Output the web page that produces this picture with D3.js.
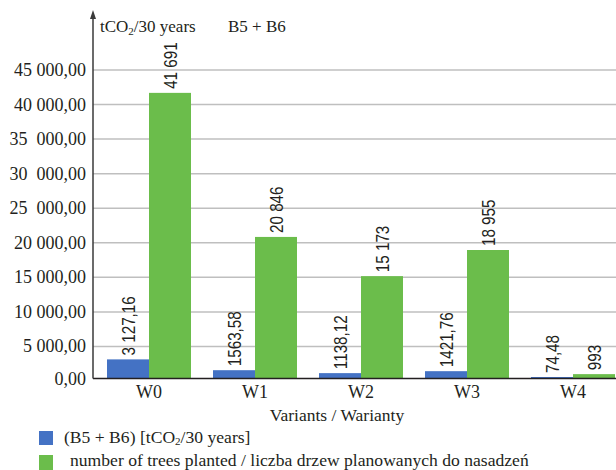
<!DOCTYPE html>
<html>
<head>
<meta charset="utf-8">
<script src="https://cdn.jsdelivr.net/npm/d3@7"></script>
<style>
  body { margin: 0; background: #fff; }
  svg { display: block; }
  text { white-space: pre; fill: #231f20; }
  .serif { font-family: "Liberation Serif", "Tinos", "Times New Roman", "DejaVu Serif", serif; }
  .sans { font-family: "Liberation Sans", Arimo, Arial, sans-serif; }
</style>
</head>
<body>
<svg width="616" height="470"></svg>
<script>
  const variants = ["W0", "W1", "W2", "W3", "W4"];
  const co2Values = [3127.16, 1563.58, 1138.12, 1421.76, 74.48];
  const treeValues = [41691, 20846, 15173, 18955, 993];
  const co2Labels = ["3 127,16", "1563,58", "1138,12", "1421,76", "74,48"];
  const treeLabels = ["41 691", "20 846", "15 173", "18 955", "993"];
  const tickValues = [0, 5000, 10000, 15000, 20000, 25000, 30000, 35000, 40000, 45000];
  const tickLabels = ["0,00", "5 000,00", "10 000,00", "15 000,00", "20 000,00",
                      "25  000,00", "30  000,00", "35  000,00", "40 000,00", "45 000,00"];

  const blue = "#4472c4";
  const green = "#6bbd4b";

  const axisX = 93;
  const baseY = 378.5;

  const svg = d3.select("svg");

  const xScale = d3.scaleBand()
      .domain(variants)
      .range([96, 626])
      .padding(0);

  const subScale = d3.scaleBand()
      .domain(["co2", "trees"])
      .range([0, xScale.bandwidth()])
      .paddingInner(0)
      .paddingOuter(0.262);

  const yScale = d3.scaleLinear()
      .domain([0, 45000])
      .range([381, 70]);

  // gridlines
  svg.append("g")
    .selectAll("line")
    .data(tickValues.slice(1))
    .enter()
    .append("line")
    .attr("x1", axisX)
    .attr("x2", 616)
    .attr("y1", d => yScale(d))
    .attr("y2", d => yScale(d))
    .style("stroke", "#bfbfbf")
    .style("stroke-width", 1.5);

  // y tick labels
  svg.append("g")
    .selectAll("text")
    .data(tickValues)
    .enter()
    .append("text")
    .attr("class", "serif")
    .attr("x", 86)
    .attr("y", (d, i) => i === 0 ? baseY + 6 : yScale(d) + 6)
    .attr("text-anchor", "end")
    .style("font-size", "18px")
    .text((d, i) => tickLabels[i]);

  const series = [
    { key: "co2", values: co2Values, labels: co2Labels, color: blue },
    { key: "trees", values: treeValues, labels: treeLabels, color: green }
  ];

  series.forEach(s => {
    const g = svg.append("g");
    g.selectAll("rect")
      .data(variants)
      .enter()
      .append("rect")
      .attr("x", d => xScale(d) + subScale(s.key))
      .attr("width", subScale.bandwidth())
      .attr("y", (d, i) => Math.min(yScale(s.values[i]), baseY - 1.5))
      .attr("height", (d, i) => Math.max(1.5, baseY - yScale(s.values[i])))
      .style("fill", s.color);

    g.selectAll("text")
      .data(variants)
      .enter()
      .append("text")
      .attr("class", "sans")
      .attr("transform", (d, i) => {
        const cx = xScale(d) + subScale(s.key) + subScale.bandwidth() / 2 + 7;
        const cy = Math.min(yScale(s.values[i]), baseY - 1.5) - 4;
        return `translate(${cx},${cy}) rotate(-90) scale(0.8,1)`;
      })
      .style("font-size", "19px")
      .text((d, i) => s.labels[i]);
  });

  // x axis baseline
  svg.append("line")
    .attr("x1", axisX)
    .attr("x2", 616)
    .attr("y1", baseY)
    .attr("y2", baseY)
    .style("stroke", "#231f20")
    .style("stroke-width", 1.6);

  // y axis with arrow
  svg.append("line")
    .attr("x1", axisX)
    .attr("x2", axisX)
    .attr("y1", baseY)
    .attr("y2", 16)
    .style("stroke", "#3a3a3a")
    .style("stroke-width", 1.5);

  svg.append("path")
    .attr("d", `M${axisX},10 L${axisX - 3},19 L${axisX + 3},19 Z`)
    .style("fill", "#3a3a3a");

  // category labels
  svg.append("g")
    .selectAll("text")
    .data(variants)
    .enter()
    .append("text")
    .attr("class", "serif")
    .attr("x", d => xScale(d) + xScale.bandwidth() / 2)
    .attr("y", 398)
    .attr("text-anchor", "middle")
    .style("font-size", "18px")
    .text(d => d);

  svg.append("text")
    .attr("class", "serif")
    .attr("x", 337)
    .attr("y", 421)
    .attr("text-anchor", "middle")
    .style("font-size", "17.5px")
    .text("Variants / Warianty");

  // unit title
  const unit = svg.append("text")
    .attr("class", "serif")
    .attr("x", 100)
    .attr("y", 32)
    .style("font-size", "17px");
  unit.append("tspan").text("tCO");
  unit.append("tspan").attr("dy", 3).style("font-size", "11px").text("2");
  unit.append("tspan").attr("dy", -3).text("/30 years");

  svg.append("text")
    .attr("class", "serif")
    .attr("x", 228)
    .attr("y", 32)
    .style("font-size", "17px")
    .text("B5 + B6");

  // legend
  const legend = svg.append("g");
  legend.append("rect")
    .attr("x", 39).attr("y", 431).attr("width", 14).attr("height", 14)
    .style("fill", blue);
  const l1 = legend.append("text")
    .attr("class", "serif")
    .attr("x", 64)
    .attr("y", 443)
    .style("font-size", "17.6px");
  l1.append("tspan").text("(B5 + B6) [tCO");
  l1.append("tspan").attr("dy", 2).style("font-size", "11px").text("2");
  l1.append("tspan").attr("dy", -2).text("/30 years]");

  legend.append("rect")
    .attr("x", 39).attr("y", 455).attr("width", 14).attr("height", 15)
    .style("fill", green);
  legend.append("text")
    .attr("class", "serif")
    .attr("x", 70)
    .attr("y", 466)
    .style("font-size", "17.6px")
    .text("number of trees planted / liczba drzew planowanych do nasadzeń");
</script>
</body>
</html>
